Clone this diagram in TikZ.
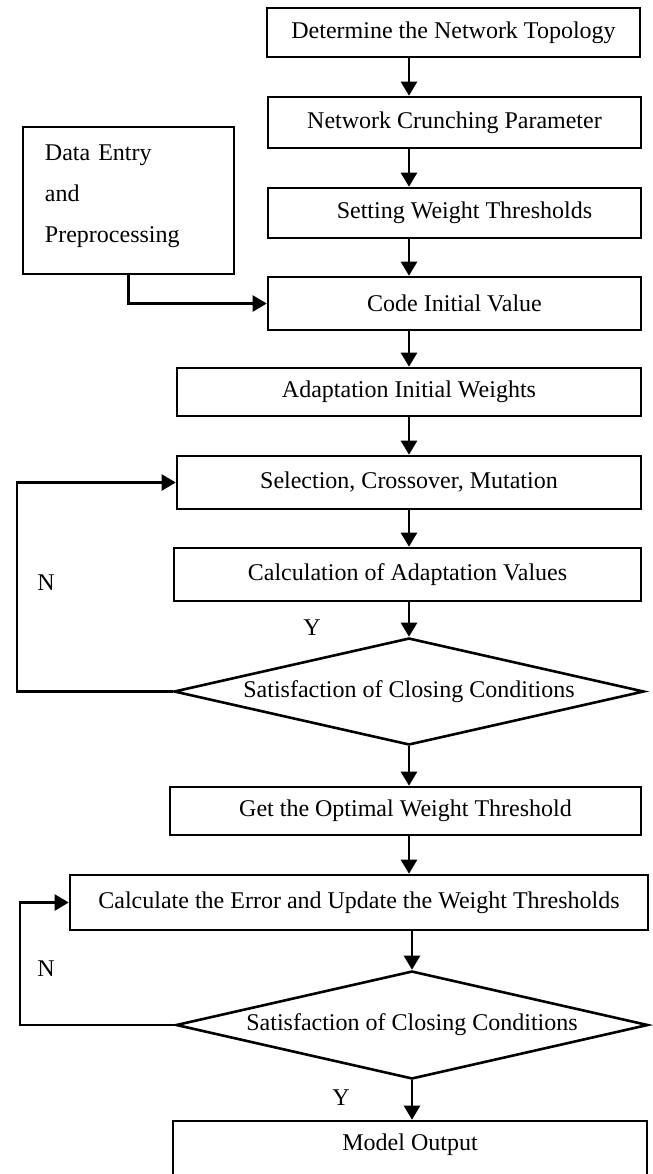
\documentclass[tikz,border=0pt]{standalone}
\usepackage{fontspec}
\setmainfont{Liberation Serif}
\usetikzlibrary{arrows.meta,shapes.geometric}

\tikzset{
	stepbox/.style={draw, line width=1.3pt, inner sep=0pt, font=\fontsize{12}{14}\selectfont},
	choice/.style={draw, diamond, aspect=4.4, line width=1.3pt, inner sep=0pt, font=\fontsize{12}{14}\selectfont},
	arr/.style={line width=1.2pt, -{Triangle[length=7pt,width=8pt]}},
	yn/.style={inner sep=0pt, font=\fontsize{12}{14}\selectfont}
}

\begin{document}
\begin{tikzpicture}[x=0.5pt, y=-0.5pt]
		%%%%% START %%%%%
		\useasboundingbox (0,0) rectangle (653,1174);
		\coordinate (axis) at (409,0);
		\coordinate (loopA) at (17,0);
		\coordinate (loopB) at (20,0);
		
		\node[stepbox, minimum width=186.5pt, minimum height=24.5pt] (topo) at (453.5,32.5) {Determine the Network Topology};
		\node[stepbox, minimum width=186.5pt, minimum height=25.5pt] (crunch) at (454.5,122.5) {Network Crunching Parameter};
		\node[stepbox, minimum width=186.5pt, minimum height=25pt] (thresh) at (454.5,213) {\hspace{10pt}Setting Weight Thresholds};
		
		\node[stepbox, minimum width=105.5pt, minimum height=73.5pt, inner xsep=11pt, text width=83.5pt, align=left] (data) at (128.5,200.5) {Data Entry\\[6.5pt]and\\[6.5pt]Preprocessing\\[-7pt]\mbox{}};
		
		\node[stepbox, minimum width=186.5pt, minimum height=26.5pt] (code) at (454.5,303.5) {Code Initial Value};
		\node[stepbox, minimum width=232pt, minimum height=24pt] (adapt) at (409,392) {Adaptation Initial Weights};
		\node[stepbox, minimum width=232pt, minimum height=26.5pt] (select) at (409,482.5) {Selection, Crossover, Mutation};
		\node[stepbox, minimum width=233.5pt, minimum height=26.5pt] (calc) at (407.5,574.5) {Calculation of Adaptation Values};
		\node[choice, minimum width=235pt, minimum height=53.5pt] (close1) at (409,691.5) {Satisfaction of Closing Conditions};
		
		\node[stepbox, minimum width=235.5pt, minimum height=24pt] (optim) at (405.5,811) {Get the Optimal Weight Threshold};
		\node[stepbox, minimum width=289pt, minimum height=27.5pt] (update) at (359,902.5) {Calculate the Error and Update the Weight Thresholds};
		\node[choice, minimum width=236pt, minimum height=54pt] (close2) at (412,1025) {Satisfaction of Closing Conditions};
		\node[stepbox, minimum width=237pt, minimum height=28pt, text height=9pt, text depth=8pt] (output) at (410,1149) {Model Output};
		
		\node[yn] (n1) at (46,583) {N};
		\node[yn] (y1) at (312,628) {Y};
		\node[yn] (n2) at (46,969) {N};
		\node[yn] (y2) at (341,1098) {Y};
		
		% main line
		\draw[arr] (topo.south -| axis) -- (crunch.north -| axis);
		\draw[arr] (crunch.south -| axis) -- (thresh.north -| axis);
		\draw[arr] (thresh.south -| axis) -- (code.north -| axis);
		\draw[arr] (data.south) |- (code.west);
		\draw[arr] (code.south -| axis) -- (adapt.north -| axis);
		\draw[arr] (adapt.south -| axis) -- (select.north -| axis);
		\draw[arr] (select.south -| axis) -- (calc.north -| axis);
		\draw[arr] (calc.south -| axis) -- (close1.north);
		\draw[arr] (close1.south) -- (optim.north -| close1.south);
		\draw[arr] (optim.south -| axis) -- (update.north -| axis);
		\draw[arr] (update.south -| close2.north) -- (close2.north);
		\draw[arr] (close2.south) -- (output.north -| close2.south);
		
		% loops back
		\draw[arr] (close1.west) -- (close1.west -| loopA) -- (select.west -| loopA) -- (select.west);
		\draw[arr] (close2.west) -- (close2.west -| loopB) -- (update.west -| loopB) -- (update.west);
		
		%%%%% END %%%%%
\end{tikzpicture}
\end{document}
